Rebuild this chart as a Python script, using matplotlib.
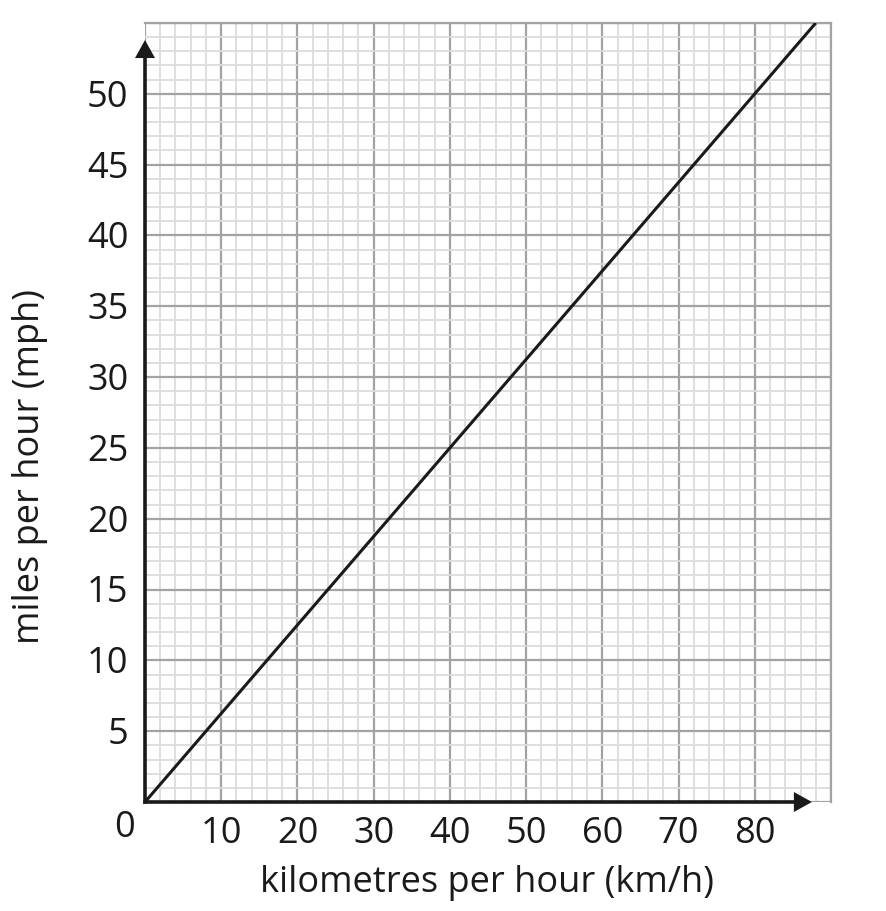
import matplotlib
matplotlib.use("Agg")
import matplotlib.pyplot as plt
from matplotlib.ticker import MultipleLocator

# Data
kmh = [0, 88]
mph = [0, 55]
x_ticks = [10, 20, 30, 40, 50, 60, 70, 80]
y_ticks = [5, 10, 15, 20, 25, 30, 35, 40, 45, 50]
x_max, y_max = 90, 55

plt.rcParams['font.family'] = ['Open Sans', 'DejaVu Sans']

fig = plt.figure(figsize=(8.87, 9.11), dpi=100)
ax = fig.add_axes([145/887, 1-802/911, 686/887, 779/911])
ax.set_xlim(0, x_max)
ax.set_ylim(0, y_max)

ax.xaxis.set_major_locator(MultipleLocator(10))
ax.xaxis.set_minor_locator(MultipleLocator(2))
ax.yaxis.set_major_locator(MultipleLocator(5))
ax.yaxis.set_minor_locator(MultipleLocator(1))
ax.grid(which='minor', color='#dcdcdc', linewidth=1.3)
ax.grid(which='major', color='#a3a3a3', linewidth=1.6)
ax.set_axisbelow(True)
ax.tick_params(which='both', length=0, labelbottom=False, labelleft=False)
for s in ['top', 'right']:
    ax.spines[s].set_color('#a3a3a3')
    ax.spines[s].set_linewidth(1.6)
for s in ['left', 'bottom']:
    ax.spines[s].set_visible(False)

# axes with arrows
ax.plot([0, 85.5], [0, 0], color='#1a1a1a', lw=2.6, clip_on=False, zorder=3)
ax.plot([0, 0], [0, 52.8], color='#1a1a1a', lw=2.6, clip_on=False, zorder=3)
astyle = '-|>,head_length=1.3,head_width=0.72'
ax.annotate('', xy=(87.5, 0), xytext=(84.0, 0),
            arrowprops=dict(arrowstyle=astyle, color='#1a1a1a', lw=0,
                            shrinkA=0, shrinkB=0),
            annotation_clip=False, zorder=4)
ax.annotate('', xy=(0, 53.8), xytext=(0, 51.0),
            arrowprops=dict(arrowstyle=astyle, color='#1a1a1a', lw=0,
                            shrinkA=0, shrinkB=0),
            annotation_clip=False, zorder=4)

# conversion line
ax.plot(kmh, mph, color='#1a1a1a', lw=2.2, solid_capstyle='butt', zorder=5)

fs = 26
tc = '#1a1a1a'
for t in x_ticks:
    ax.annotate(str(t), xy=(t, 0), xytext=(0, -29.5), textcoords='offset points',
                ha='center', va='baseline', fontsize=fs, color=tc)
for t in y_ticks:
    ax.annotate(str(t), xy=(0, t), xytext=(-12, -9.3), textcoords='offset points',
                ha='right', va='baseline', fontsize=fs, color=tc)
ax.annotate('0', xy=(0, 0), xytext=(-7, -25.5), textcoords='offset points',
            ha='right', va='baseline', fontsize=fs, color=tc)

fig.text(487/887, 1-883/911, 'kilometres per hour (km/h)', ha='center', va='center',
         fontsize=fs, color=tc)
fig.text(30/887, 1-467/911, 'miles per hour (mph)', ha='center', va='center',
         rotation=90, fontsize=fs, color=tc)

fig.savefig('out.png', dpi=100, facecolor='white')
